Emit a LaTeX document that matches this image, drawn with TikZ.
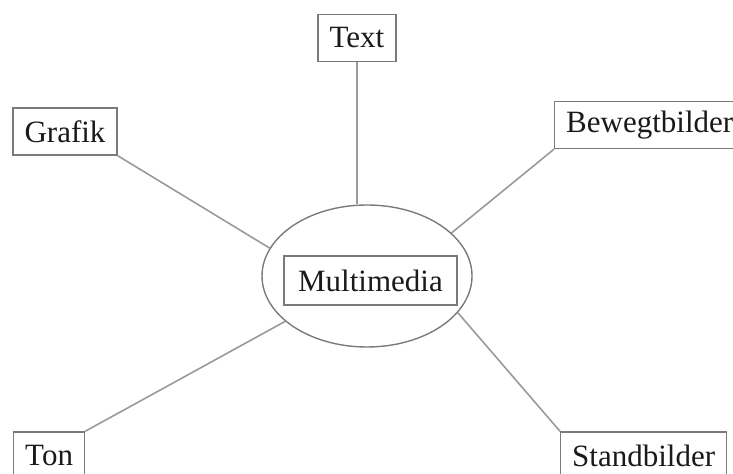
\documentclass[tikz,border=0pt]{standalone}
\usepackage{fontspec}
\setmainfont{Liberation Serif}
\usepackage{xcolor}
\usetikzlibrary{shapes.geometric}
\definecolor{ink}    {HTML}{1A1A1A}
\definecolor{frame}  {HTML}{7A7A7A}
\definecolor{spoke}  {HTML}{9A9A9A}
\tikzset{
  word/.style  ={draw=frame, fill=white, line width=0.7pt,
                 minimum height=23.5pt, inner xsep=5.75pt, inner ysep=0pt,
                 text=ink, font=\fontsize{15.5}{18}\selectfont},
  hub/.style   ={ellipse, draw=frame, line width=0.7pt,
                 minimum width=105pt, minimum height=71pt, inner sep=0pt},
  spk/.style   ={draw=spoke, line width=0.8pt},
}

\begin{document}
\begin{tikzpicture}[x=0.5pt,y=-0.5pt]
  \useasboundingbox (0,0) rectangle (733,474);

  \node[hub] (ell) at (367,276) {};
  \node[word,inner xsep=7pt,minimum height=24.5pt] (mm) at (370.5,280.5) {Multimedia};

  \node[word] (text)  at (357,38)    {Text};
  \node[word] (graf)  at (65,131.5)  {Grafik};
  \node[word,anchor=west] (bew) at (554,125) {Bewegtbilder};
  \node[word,anchor=west] (ton) at (13,455.5) {Ton};
  \node[word,anchor=west] (stand) at (560,455.5) {Standbilder};

  \draw[spk] (text.south) -- (text.south |- ell.north);
  \draw[spk] (graf.south east) -- (ell.164);
  \draw[spk] (bew.south west) -- (ell.27);
  \draw[spk] (ton.north east) -- (ell.209);
  \draw[spk] (stand.north west) -- (ell.338);
\end{tikzpicture}
\end{document}
